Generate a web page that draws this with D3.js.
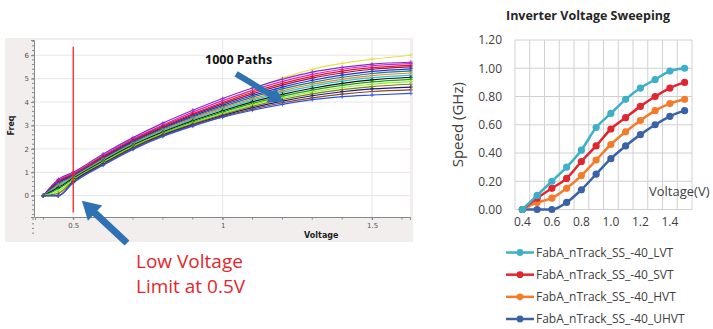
<!DOCTYPE html>
<html>
<head>
<meta charset="utf-8">
<script src="https://cdn.jsdelivr.net/npm/d3@7"></script>
<style>
  body { margin: 0; background: #fff; }
  svg { display: block; font-family: "Open Sans", "Noto Sans", sans-serif; }
</style>
</head>
<body>
<div id="chart"></div>
<script>
// ---------- left panel : sample of the 1000 simulated paths ----------
const sweepVolts = [0.40, 0.45, 0.50, 0.60, 0.70, 0.80, 0.90, 1.00, 1.10, 1.20, 1.30, 1.40, 1.50, 1.63];
const pathColors = ['#e8e04a', '#7b2fd0', '#e020d0', '#e01818', '#a0104a', '#2030e0', '#108080', '#f08020',
                    '#20c8d8', '#111111', '#18a018', '#90f020', '#808010', '#1a1a80', '#8a4a1a', '#3050f0'];
const pathFreqs = [
  [0, 0.55, 0.90, 1.62, 2.30, 2.87, 3.38, 3.95, 4.52, 5.02, 5.40, 5.65, 5.83, 6.00],
  [0, 0.70, 1.00, 1.78, 2.48, 3.10, 3.65, 4.15, 4.60, 4.98, 5.28, 5.48, 5.62, 5.70],
  [0, 0.65, 0.95, 1.72, 2.42, 3.02, 3.57, 4.06, 4.50, 4.88, 5.18, 5.40, 5.55, 5.64],
  [0, 0.62, 0.92, 1.68, 2.38, 2.97, 3.50, 3.98, 4.42, 4.80, 5.10, 5.32, 5.47, 5.57],
  [0, 0.58, 0.88, 1.64, 2.34, 2.92, 3.45, 3.92, 4.35, 4.72, 5.02, 5.24, 5.40, 5.50],
  [0, 0.55, 0.85, 1.60, 2.30, 2.88, 3.40, 3.86, 4.28, 4.64, 4.93, 5.15, 5.31, 5.42],
  [0, 0.50, 0.82, 1.57, 2.26, 2.84, 3.35, 3.80, 4.21, 4.56, 4.84, 5.06, 5.22, 5.33],
  [0, 0.45, 0.80, 1.54, 2.22, 2.80, 3.30, 3.75, 4.14, 4.48, 4.76, 4.97, 5.13, 5.24],
  [0, 0.40, 0.77, 1.51, 2.19, 2.76, 3.25, 3.69, 4.08, 4.41, 4.68, 4.89, 5.04, 5.15],
  [0, 0.35, 0.74, 1.48, 2.16, 2.72, 3.20, 3.63, 4.01, 4.33, 4.59, 4.80, 4.95, 5.06],
  [0, 0.30, 0.71, 1.45, 2.13, 2.68, 3.15, 3.57, 3.94, 4.25, 4.51, 4.71, 4.86, 4.97],
  [0, 0.20, 0.68, 1.42, 2.10, 2.65, 3.11, 3.52, 3.88, 4.18, 4.43, 4.62, 4.76, 4.87],
  [0, 0.10, 0.64, 1.39, 2.07, 2.62, 3.07, 3.47, 3.82, 4.11, 4.35, 4.53, 4.66, 4.76],
  [0, 0.00, 0.60, 1.36, 2.04, 2.59, 3.03, 3.42, 3.76, 4.04, 4.27, 4.44, 4.56, 4.64],
  [0, 0.00, 0.57, 1.33, 2.01, 2.56, 3.00, 3.38, 3.70, 3.97, 4.18, 4.34, 4.45, 4.52],
  [0, 0.00, 0.55, 1.30, 1.98, 2.53, 2.97, 3.35, 3.65, 3.90, 4.10, 4.23, 4.30, 4.37],
];
const freqTicks = [0, 1, 2, 3, 4, 5, 6];
const voltTicks = [0.5, 1, 1.5];
const voltTickLabels = ['0.5', '1', '1.5'];
const limitVolt = 0.5;

// ---------- right panel : inverter voltage sweeping ----------
const speedVolts = ['0.4', '0.5', '0.6', '0.7', '0.8', '0.9', '1.0', '1.1', '1.2', '1.3', '1.4', '1.5'];
const speedVoltLabels = ['0.4', '0.6', '0.8', '1.0', '1.2', '1.4'];
const speedTicks = [0, 0.2, 0.4, 0.6, 0.8, 1.0, 1.2];
const seriesNames = ['FabA_nTrack_SS_-40_LVT', 'FabA_nTrack_SS_-40_SVT', 'FabA_nTrack_SS_-40_HVT', 'FabA_nTrack_SS_-40_UHVT'];
const seriesColors = ['#3db0c9', '#e2252f', '#f47b2a', '#3a62a8'];
const lvtSpeed  = [0, 0.10, 0.20, 0.30, 0.42, 0.58, 0.68, 0.78, 0.86, 0.92, 0.98, 1.00];
const svtSpeed  = [0, 0.08, 0.15, 0.22, 0.34, 0.45, 0.57, 0.65, 0.73, 0.80, 0.86, 0.90];
const hvtSpeed  = [0, 0.05, 0.08, 0.15, 0.24, 0.35, 0.46, 0.55, 0.63, 0.70, 0.75, 0.78];
const uhvtSpeed = [0, 0.00, 0.00, 0.05, 0.14, 0.25, 0.36, 0.45, 0.53, 0.60, 0.66, 0.70];

const W = 713, H = 329;
const svg = d3.select('#chart').append('svg')
  .attr('width', W).attr('height', H)
  .attr('viewBox', [0, 0, W, H]);

// ======================= LEFT PANEL =======================
const xL = d3.scaleLinear([0.372, 1.627], [35, 410]);
const yL = d3.scaleLinear([-0.91, 6.65], [217, 40]);

const left = svg.append('g').attr('class', 'left-panel');

left.append('rect')
  .attr('x', 5).attr('y', 38).attr('width', 408).attr('height', 204)
  .attr('fill', '#f2eeee');
left.append('rect')
  .attr('x', xL.range()[0]).attr('y', yL.range()[1])
  .attr('width', xL.range()[1] - xL.range()[0])
  .attr('height', yL.range()[0] - yL.range()[1])
  .attr('fill', '#fff');

// gridlines
left.append('g').attr('class', 'gridlines')
  .selectAll('line')
  .data(freqTicks)
  .join('line')
  .attr('x1', xL.range()[0]).attr('x2', xL.range()[1])
  .attr('y1', d => yL(d)).attr('y2', d => yL(d))
  .style('stroke', '#e6e6e6').style('stroke-width', 1)
  ;
left.append('g').attr('class', 'vgridlines')
  .selectAll('line')
  .data(voltTicks)
  .join('line')
  .attr('x1', d => xL(d)).attr('x2', d => xL(d))
  .attr('y1', yL.range()[1]).attr('y2', yL.range()[0])
  .style('stroke', '#e6e6e6').style('stroke-width', 1)
  ;

// axes
const yAxisL = d3.axisLeft(yL).tickValues(freqTicks).tickSize(3).tickPadding(2);
const xAxisL = d3.axisBottom(xL).tickValues(voltTicks).tickSize(3).tickPadding(3)
  .tickFormat((d, i) => voltTickLabels[i]);

const gyL = left.append('g')
  .attr('transform', `translate(${xL.range()[0] - 1}, 0)`)
  .call(yAxisL);
const gxL = left.append('g')
  .attr('transform', `translate(0, ${yL.range()[0]})`)
  .call(xAxisL);
[gyL, gxL].forEach(g => {
  g.select('.domain').attr('stroke', '#888');
  g.selectAll('.tick line').attr('stroke', '#888');
  g.selectAll('.tick text').attr('fill', '#555').style('font-size', '7px')
    .style('font-family', '"DejaVu Sans", sans-serif');
});

// minor ticks
gyL.append('g').selectAll('line')
  .data(d3.range(-8, 34).map(i => i * 0.2))
  .join('line')
  .attr('x1', -2).attr('x2', 0)
  .attr('y1', d => yL(d)).attr('y2', d => yL(d))
  .attr('stroke', '#888');
gxL.append('g').selectAll('line')
  .data(d3.range(4, 17).map(i => i * 0.1))
  .join('line')
  .attr('x1', d => xL(d)).attr('x2', d => xL(d))
  .attr('y1', 0).attr('y2', 2.5)
  .attr('stroke', '#888');

left.append('text')
  .attr('transform', `translate(14, ${yL(3)}) rotate(-90)`)
  .attr('text-anchor', 'middle')
  .style('font-size', '8px').style('font-weight', 'bold')
  .style('font-family', '"DejaVu Sans", sans-serif')
  .attr('fill', '#222')
  .text('Freq');
left.append('text')
  .attr('x', xL(1.33)).attr('y', 238)
  .attr('text-anchor', 'middle')
  .style('font-size', '8px').style('font-weight', 'bold')
  .style('font-family', '"DejaVu Sans", sans-serif')
  .attr('fill', '#222')
  .text('Voltage');

// paths
const pathLine = d3.line()
  .x((d, i) => xL(sweepVolts[i]))
  .y(d => yL(d))
  .curve(d3.curveMonotoneX);

const paths = left.append('g').attr('class', 'chartlines');
paths.selectAll('path')
  .data(pathFreqs)
  .join('path')
  .attr('d', pathLine)
  .style('stroke', (d, i) => pathColors[i])
  .style('stroke-width', 1.2)
  .style('fill', 'none')
  ;
paths.selectAll('g.marks')
  .data(pathFreqs)
  .join('g')
  .attr('class', 'marks')
  .attr('stroke', (d, i) => pathColors[i])
  .selectAll('path')
  .data(d => d.map((f, i) => [sweepVolts[i], f]))
  .join('path')
  .attr('d', d => `M${xL(d[0]) - 2},${yL(d[1])}h4M${xL(d[0])},${yL(d[1]) - 2}v4`)
  .attr('stroke-width', 0.8)
  ;

// low voltage limit
left.append('line')
  .attr('x1', xL(limitVolt)).attr('x2', xL(limitVolt))
  .attr('y1', yL(6.36)).attr('y2', yL(-0.72))
  .style('stroke', '#f52a2a').style('stroke-width', 1.3);

// arrows
function arrowShape(x1, y1, x2, y2, shaft, headW, headL) {
  const dx = x2 - x1, dy = y2 - y1, len = Math.hypot(dx, dy);
  const ux = dx / len, uy = dy / len, nx = -uy, ny = ux;
  const bx = x2 - ux * headL, by = y2 - uy * headL;
  const pts = [
    [x1 + nx * shaft / 2, y1 + ny * shaft / 2],
    [bx + nx * shaft / 2, by + ny * shaft / 2],
    [bx + nx * headW / 2, by + ny * headW / 2],
    [x2, y2],
    [bx - nx * headW / 2, by - ny * headW / 2],
    [bx - nx * shaft / 2, by - ny * shaft / 2],
    [x1 - nx * shaft / 2, y1 - ny * shaft / 2],
  ];
  return 'M' + pts.map(p => p.join(',')).join('L') + 'Z';
}
const arrowColor = '#2f72b4';
left.append('path')
  .attr('d', arrowShape(xL(1.045), yL(5.2), xL(1.205), yL(3.98), 6, 17, 15))
  .attr('fill', arrowColor);
left.append('path')
  .attr('d', arrowShape(xL(0.68), yL(-2.02), xL(0.529), yL(-0.22), 7, 21, 18))
  .attr('fill', arrowColor);

left.append('text')
  .attr('x', 205).attr('y', 64)
  .style('font-size', '12.5px').style('font-weight', 'bold')
  .attr('fill', '#111')
  .text('1000 Paths');

const note = left.append('text')
  .attr('fill', '#e3262b')
  .style('font-size', '19px');
note.append('tspan').attr('x', 136).attr('y', 268).text('Low Voltage');
note.append('tspan').attr('x', 136).attr('y', 293).text('Limit at 0.5V');

// ======================= RIGHT PANEL =======================
const xR = d3.scaleBand(speedVolts, [515, 692]);
const yR = d3.scaleLinear([0, 1.2], [209.5, 40]);
const right = svg.append('g').attr('class', 'right-panel');

right.append('text')
  .attr('x', 588).attr('y', 20)
  .attr('text-anchor', 'middle')
  .style('font-size', '12.5px').style('font-weight', 'bold')
  .attr('fill', '#262626')
  .text('Inverter Voltage Sweeping');

// grid
right.append('g').selectAll('line')
  .data(speedTicks)
  .join('line')
  .attr('x1', xR.range()[0]).attr('x2', xR.range()[1])
  .attr('y1', d => yR(d)).attr('y2', d => yR(d))
  .style('stroke', '#d0d0d0').style('stroke-width', 1);
right.append('g').selectAll('line')
  .data(speedVolts.map(v => xR(v)).concat([xR.range()[1]]))
  .join('line')
  .attr('x1', d => d).attr('x2', d => d)
  .attr('y1', yR(1.2)).attr('y2', yR(0))
  .style('stroke', '#d0d0d0').style('stroke-width', 1);

// axes
const yAxisR = d3.axisLeft(yR).tickValues(speedTicks).tickSize(0).tickPadding(13)
  .tickFormat(d3.format('.2f'));
const xAxisR = d3.axisBottom(xR).tickValues(speedVoltLabels).tickSize(0).tickPadding(8);
const gyR = right.append('g').attr('transform', `translate(${xR.range()[0]}, 0)`).call(yAxisR);
const gxR = right.append('g').attr('transform', `translate(0, ${yR(0)})`).call(xAxisR);
[gyR, gxR].forEach(g => {
  g.select('.domain').remove();
  g.selectAll('.tick text').attr('fill', '#404040').style('font-size', '12px')
    .style('font-family', '"Open Sans", sans-serif');
});

right.append('text')
  .attr('transform', `translate(463, ${yR(0.6)}) rotate(-90)`)
  .attr('text-anchor', 'middle')
  .style('font-size', '15px')
  .attr('fill', '#404040')
  .text('Speed (GHz)');
right.append('text')
  .attr('x', 649).attr('y', 196)
  .style('font-size', '13px')
  .attr('fill', '#404040')
  .text('Voltage(V)');

// series
const seriesData = [lvtSpeed, svtSpeed, hvtSpeed, uhvtSpeed];
const speedLine = d3.line()
  .x((d, i) => xR(speedVolts[i]) + xR.bandwidth() / 2)
  .y(d => yR(d))
  .curve(d3.curveMonotoneX);

const sGroups = right.append('g').attr('class', 'series')
  .selectAll('g')
  .data(seriesData.map((v, i) => ({ values: v, color: seriesColors[i] })).reverse())
  .join('g');
sGroups.append('path')
  .attr('d', d => speedLine(d.values))
  .attr('fill', 'none')
  .attr('stroke', d => d.color)
  .attr('stroke-width', 2.5);
sGroups.selectAll('circle')
  .data(d => d.values.map((v, i) => ({ v, i, color: d.color })))
  .join('circle')
  .attr('cx', d => xR(speedVolts[d.i]) + xR.bandwidth() / 2)
  .attr('cy', d => yR(d.v))
  .attr('r', 3.6)
  .attr('fill', d => d.color);

// legend
const legendY = d3.scalePoint(seriesNames, [252.5, 319]);
const legend = right.append('g').attr('class', 'legend')
  .selectAll('g')
  .data(seriesNames)
  .join('g')
  .attr('transform', d => `translate(506, ${legendY(d)})`);
legend.append('line')
  .attr('x1', 0).attr('x2', 28)
  .attr('stroke', (d, i) => seriesColors[i]).attr('stroke-width', 2.5);
legend.append('circle')
  .attr('cx', 14).attr('r', 3.4)
  .attr('fill', (d, i) => seriesColors[i]);
legend.append('text')
  .attr('x', 30).attr('dy', '0.35em')
  .style('font-size', '12px')
  .attr('fill', '#404040')
  .text(d => d);
</script>
</body>
</html>
